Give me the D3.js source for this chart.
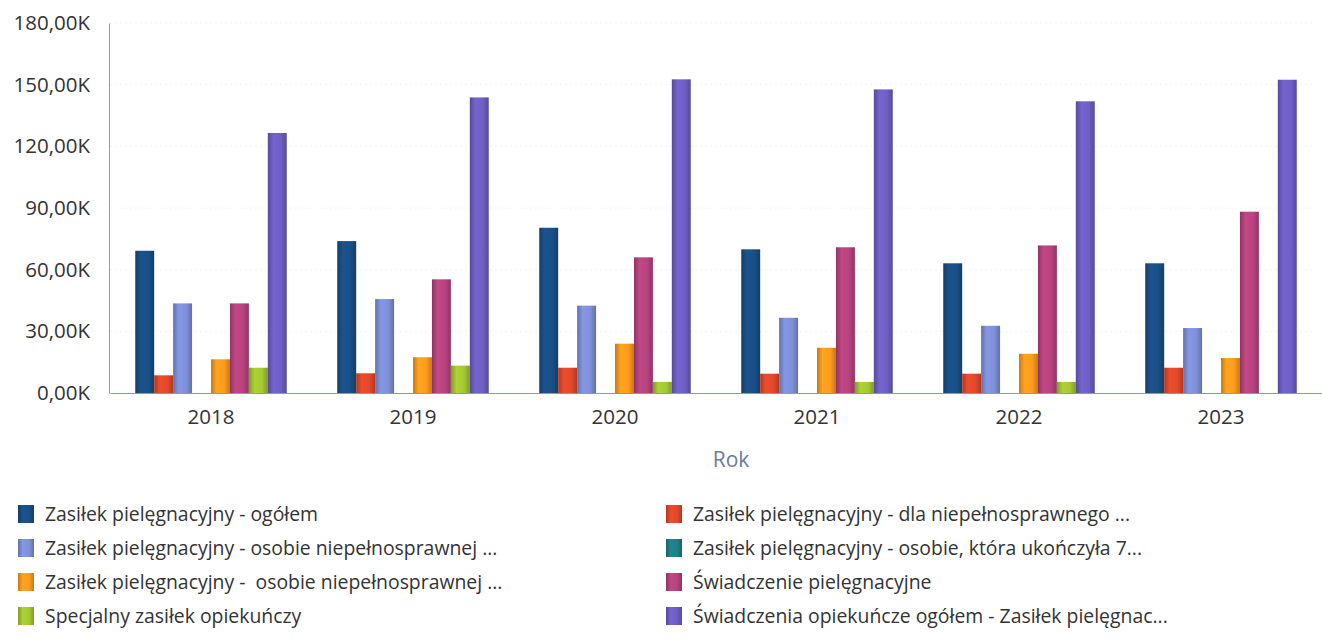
<!DOCTYPE html>
<html>
<head>
<meta charset="utf-8">
<script src="https://cdn.jsdelivr.net/npm/d3@7/dist/d3.min.js"></script>
<style>
  html, body { margin: 0; padding: 0; background: #fff; }
  svg { display: block; }
  text { font-family: "Open Sans", "Noto Sans", sans-serif; }
  .legend-label { white-space: pre; }
</style>
</head>
<body>
<svg id="chart" width="1322" height="639"></svg>
<script>
// Years on the category axis
const years = ["2018", "2019", "2020", "2021", "2022", "2023"];

// Series names as shown in the legend
const seriesNames = [
  "Zasiłek pielęgnacyjny - ogółem",
  "Zasiłek pielęgnacyjny - dla niepełnosprawnego ...",
  "Zasiłek pielęgnacyjny - osobie niepełnosprawnej ...",
  "Zasiłek pielęgnacyjny - osobie, która ukończyła 7...",
  "Zasiłek pielęgnacyjny -  osobie niepełnosprawnej ...",
  "Świadczenie pielęgnacyjne",
  "Specjalny zasiłek opiekuńczy",
  "Świadczenia opiekuńcze ogółem - Zasiłek pielęgnac..."
];

// Values in thousands, one array per series (2018..2023)
const ogolem        = [69.2, 73.9, 80.4, 69.9, 63.1, 63.1];
const dlaNiepeln    = [8.6, 9.6, 12.3, 9.4, 9.4, 12.3];
const osobieNiep16  = [43.6, 45.7, 42.5, 36.6, 32.7, 31.6];
const osobie75      = [0, 0, 0, 0, 0, 0];
const osobieNiep21  = [16.4, 17.4, 24.0, 22.0, 19.1, 17.0];
const swiadczenie   = [43.6, 55.3, 66.0, 70.9, 71.8, 88.2];
const specjalny     = [12.3, 13.3, 5.4, 5.4, 5.4, 0];
const opiekuncze    = [126.5, 143.8, 152.6, 147.7, 141.9, 152.4];

const seriesValues = [ogolem, dlaNiepeln, osobieNiep16, osobie75, osobieNiep21, swiadczenie, specjalny, opiekuncze];

// Y tick values (thousands)
const yTicks = [0, 30, 60, 90, 120, 150, 180];

const colors = ["#1a4f86", "#e2492b", "#7f90d8", "#1f8088", "#ff9b1e", "#b8437f", "#a5c832", "#6f5fc4"];

const svg = d3.select("#chart");
const defs = svg.append("defs");

// Horizontal gradient per series: darker edges, lighter centre
colors.forEach((c, i) => {
  const g = defs.append("linearGradient")
    .attr("id", "grad" + i)
    .attr("x1", "0%").attr("x2", "100%").attr("y1", "0%").attr("y2", "0%");
  const base = d3.color(c);
  g.append("stop").attr("offset", "0%").attr("stop-color", base.darker(0.7));
  g.append("stop").attr("offset", "30%").attr("stop-color", base.brighter(0.15));
  g.append("stop").attr("offset", "70%").attr("stop-color", base);
  g.append("stop").attr("offset", "100%").attr("stop-color", base.darker(0.7));
});

const plot = { left: 110, right: 1322, top: 23, bottom: 393 };

const x0 = d3.scaleBand()
  .domain(years)
  .range([plot.left, plot.right])
  .paddingInner(0.25)
  .paddingOuter(0.125);

const x1 = d3.scaleBand()
  .domain(d3.range(seriesNames.length))
  .range([0, x0.bandwidth()])
  .padding(0);

const y = d3.scaleLinear()
  .domain([0, 180])
  .range([plot.bottom, plot.top]);

// Faint gridlines
svg.append("g")
  .selectAll("line")
  .data(yTicks.filter(t => t > 0))
  .join("line")
  .attr("x1", plot.left).attr("x2", plot.right - 10)
  .attr("y1", d => y(d)).attr("y2", d => y(d))
  .attr("stroke", "#f1f2f6")
  .attr("stroke-dasharray", "2,3");

// Y axis
const fmt = v => d3.format(".2f")(v).replace(".", ",") + "K";
const yAxis = d3.axisLeft(y).tickValues(yTicks).tickSize(0).tickPadding(19).tickFormat(fmt);
const gy = svg.append("g")
  .attr("transform", `translate(${plot.left - 1},0)`)
  .call(yAxis);
gy.select(".domain").attr("stroke", "#8a96c8").attr("stroke-width", 1);
gy.selectAll("text")
  .attr("font-size", 20.5)
  .attr("fill", "#333");

// Bars
const groups = svg.append("g")
  .selectAll("g")
  .data(years)
  .join("g")
  .attr("transform", d => `translate(${x0(d)},0)`);

groups.selectAll("rect")
  .data((yr, yi) => seriesValues.map((vals, si) => ({ si, v: vals[yi] })))
  .join("rect")
  .attr("x", d => x1(d.si))
  .attr("width", x1.bandwidth())
  .attr("y", d => y(d.v))
  .attr("height", d => y(0) - y(d.v))
  .attr("fill", d => `url(#grad${d.si})`);

// X axis baseline and year labels
const xAxis = d3.axisBottom(x0).tickSize(0).tickPadding(16);
const gx = svg.append("g")
  .attr("transform", `translate(0,${plot.bottom})`)
  .call(xAxis);
gx.select(".domain").attr("stroke", "#8a96c8").attr("stroke-width", 1);
gx.selectAll("text")
  .attr("font-size", 20.5)
  .attr("fill", "#333");

// Axis title
svg.append("text")
  .attr("x", 731)
  .attr("y", 467)
  .attr("text-anchor", "middle")
  .attr("font-size", 21)
  .attr("fill", "#6b78a8")
  .text("Rok");

// Legend: two columns, four rows
const legendCols = [18, 666];
const legendRowY = [514, 548, 582, 616];
const legend = svg.append("g")
  .selectAll("g")
  .data(seriesNames.map((name, i) => ({ name, i })))
  .join("g")
  .attr("transform", d => `translate(${legendCols[d.i % 2]},${legendRowY[Math.floor(d.i / 2)]})`);

legend.append("rect")
  .attr("x", 0).attr("y", -9)
  .attr("width", 16).attr("height", 18)
  .attr("fill", d => `url(#grad${d.i})`);

legend.append("text")
  .attr("class", "legend-label")
  .attr("x", 27)
  .attr("y", 7)
  .attr("font-size", 19.4)
  .attr("fill", "#333")
  .text(d => d.name);
</script>
</body>
</html>
